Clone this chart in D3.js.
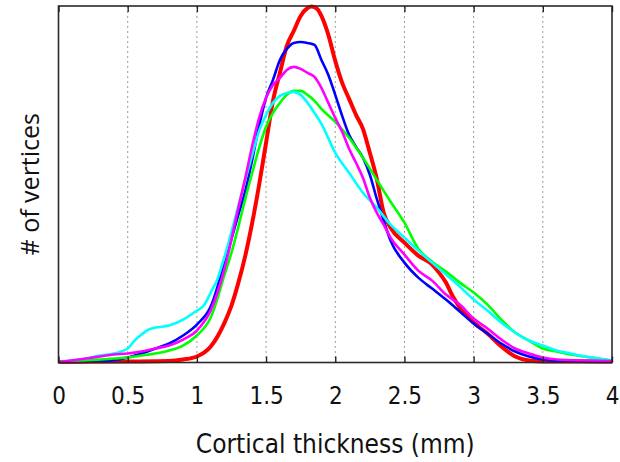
<!DOCTYPE html>
<html>
<head>
<meta charset="utf-8">
<script src="https://cdn.jsdelivr.net/npm/d3@7/dist/d3.min.js"></script>
<style>
  html, body { margin: 0; padding: 0; background: #fff; }
  svg { display: block; }
  .tick-label { font-family: 'DejaVu Sans Condensed', 'DejaVu Sans', sans-serif; font-stretch: condensed; fill: #111; }
  .axis-title { font-family: 'DejaVu Sans Condensed', 'DejaVu Sans', sans-serif; font-stretch: condensed; fill: #111; }
  .y-title { font-family: 'Open Sans', 'Noto Sans', sans-serif; fill: #111; }
</style>
</head>
<body>
<svg id="chart" width="620" height="462"></svg>
<script>
// ---- Data ----
const xTicks = [0, 0.5, 1, 1.5, 2, 2.5, 3, 3.5, 4];
const xTickLabels = ["0", "0.5", "1", "1.5", "2", "2.5", "3", "3.5", "4"];
const xTitle = "Cortical thickness (mm)";
const yTitle = "# of vertices";

const thicknessRed = [0, 0.5, 0.8, 0.9, 1.0, 1.1, 1.2, 1.25, 1.3, 1.35, 1.4, 1.45, 1.5, 1.55, 1.6, 1.65, 1.7, 1.75, 1.8, 1.83, 1.87, 1.9, 1.95, 2.0, 2.05, 2.1, 2.15, 2.2, 2.25, 2.3, 2.35, 2.4, 2.5, 2.6, 2.7, 2.75, 2.8, 2.85, 2.9, 3.0, 3.1, 3.2, 3.3, 3.4, 3.5, 4.0];
const countRed = [0.5, 1, 1.5, 3, 6, 16, 40, 57, 80, 107, 140, 178, 220, 262, 290, 317, 332, 347, 355, 356.5, 354, 347, 328, 302, 280, 264, 248, 234, 210, 184, 150, 135, 120, 107, 98, 90, 80, 66, 55, 40, 29, 16, 6, 2, 1, 1];

const thicknessBlue = [0, 0.3, 0.5, 0.6, 0.7, 0.8, 0.9, 1.0, 1.1, 1.2, 1.3, 1.35, 1.4, 1.45, 1.5, 1.55, 1.6, 1.65, 1.7, 1.75, 1.8, 1.85, 1.9, 1.95, 2.0, 2.05, 2.1, 2.15, 2.2, 2.25, 2.3, 2.35, 2.4, 2.5, 2.6, 2.7, 2.8, 2.9, 3.0, 3.1, 3.2, 3.3, 3.4, 3.5, 3.6, 3.7, 4.0];
const countBlue = [0.5, 1, 5, 9, 14, 19, 27, 38, 56, 100, 148, 172, 203, 237, 265, 283, 303, 314, 320, 321, 320, 318, 303, 288, 268, 247, 228, 216, 205, 188, 164, 142, 122, 100, 85, 74, 63, 51, 39, 29, 19, 11, 6, 3, 1.5, 1, 0.5];

const thicknessMagenta = [0, 0.2, 0.3, 0.4, 0.5, 0.6, 0.7, 0.8, 0.9, 1.0, 1.1, 1.2, 1.3, 1.35, 1.4, 1.45, 1.5, 1.55, 1.6, 1.65, 1.7, 1.75, 1.8, 1.85, 1.9, 1.95, 2.0, 2.05, 2.1, 2.15, 2.2, 2.25, 2.3, 2.35, 2.4, 2.5, 2.6, 2.7, 2.8, 2.9, 3.0, 3.1, 3.2, 3.3, 3.4, 3.5, 3.6, 3.8, 4.0];
const countMagenta = [0.5, 4, 6, 8, 9, 11, 14, 17, 23, 32, 52, 94, 155, 185, 217, 245, 265, 278, 285, 293, 296, 294, 290, 286, 275, 260, 245, 231, 214, 200, 185, 165, 150, 138, 125, 108, 92, 82, 68, 58, 44, 34, 23, 14, 9, 5, 3, 2, 1.5];

const thicknessGreen = [0, 0.2, 0.4, 0.5, 0.6, 0.7, 0.8, 0.9, 1.0, 1.1, 1.2, 1.25, 1.3, 1.35, 1.4, 1.45, 1.5, 1.55, 1.6, 1.65, 1.7, 1.75, 1.8, 1.85, 1.9, 2.0, 2.1, 2.2, 2.3, 2.4, 2.5, 2.6, 2.7, 2.8, 2.9, 3.0, 3.1, 3.2, 3.3, 3.4, 3.5, 3.6, 3.7, 3.8, 3.9, 4.0];
const countGreen = [0.5, 2, 4, 5, 7, 9, 12, 17, 27, 45, 88, 110, 136, 164, 190, 215, 236, 250, 260, 268, 272, 272, 268, 262, 254, 241, 225, 205, 183, 161, 140, 114, 101, 91, 80, 70, 58, 43, 30, 22, 14, 11, 8, 6, 4, 2];

const thicknessCyan = [0, 0.2, 0.3, 0.4, 0.5, 0.55, 0.6, 0.65, 0.7, 0.8, 0.9, 1.0, 1.05, 1.1, 1.15, 1.2, 1.3, 1.35, 1.4, 1.45, 1.5, 1.55, 1.6, 1.65, 1.7, 1.75, 1.8, 1.85, 1.9, 2.0, 2.1, 2.2, 2.3, 2.4, 2.5, 2.6, 2.7, 2.8, 2.9, 3.0, 3.1, 3.2, 3.3, 3.4, 3.5, 3.6, 3.7, 3.8, 3.9, 4.0];
const countCyan = [0.5, 4, 7, 9, 14, 22, 28, 33, 35, 37, 43, 52, 57, 70, 84, 106, 157, 183, 208, 232, 248, 260, 267, 270, 271, 268, 260, 250, 239, 210, 190, 170, 155, 138, 125, 112, 100, 88, 76, 63, 52, 40, 30, 22, 17, 12, 9, 6, 4, 2];

const seriesNames = ["red", "blue", "green", "cyan", "magenta"];
const seriesColors = ["#ff0000", "#0000ff", "#00ff00", "#00ffff", "#ff00ff"];
const seriesWidths = [4, 2.6, 2.6, 2.6, 2.6];

// ---- Layout ----
const svg = d3.select("#chart");
const plot = { left: 58.5, right: 612, top: 6, bottom: 362.5 };

const x = d3.scaleLinear().domain([0, 4]).range([plot.left, plot.right]);
const y = d3.scaleLinear().domain([0, 357]).range([plot.bottom, plot.top]);

// Grid lines (dotted)
svg.append("g")
  .selectAll("line")
  .data(xTicks.slice(1, -1))
  .join("line")
  .attr("x1", d => x(d)).attr("x2", d => x(d))
  .attr("y1", plot.top).attr("y2", plot.bottom)
  .attr("stroke", "#9a9a9a")
  .attr("stroke-width", 1)
  .attr("stroke-dasharray", "2,3");

// Series
const seriesX = [thicknessRed, thicknessBlue, thicknessGreen, thicknessCyan, thicknessMagenta];
const seriesY = [countRed, countBlue, countGreen, countCyan, countMagenta];

const line = d3.line()
  .x(d => x(d[0]))
  .y(d => y(d[1]))
  .curve(d3.curveMonotoneX);

seriesNames.forEach((name, i) => {
  const pts = seriesX[i].map((t, j) => [t, seriesY[i][j]]);
  svg.append("path")
    .datum(pts)
    .attr("fill", "none")
    .attr("stroke", seriesColors[i])
    .attr("stroke-width", seriesWidths[i])
    .attr("stroke-linejoin", "round")
    .attr("d", line);
});

// Frame
svg.append("rect")
  .attr("x", plot.left).attr("y", plot.top)
  .attr("width", plot.right - plot.left)
  .attr("height", plot.bottom - plot.top)
  .attr("fill", "none")
  .attr("stroke", "#2a2a2a")
  .attr("stroke-width", 1.6);

// Bottom axis: inward ticks
const xAxisBottom = d3.axisBottom(x)
  .tickValues(xTicks)
  .tickFormat((d, i) => xTickLabels[i])
  .tickSizeInner(-6)
  .tickSizeOuter(0)
  .tickPadding(22);
const gb = svg.append("g")
  .attr("transform", `translate(0,${plot.bottom})`)
  .call(xAxisBottom);
gb.select(".domain").remove();
gb.selectAll(".tick line").attr("stroke", "#222").attr("stroke-width", 1.4);
gb.selectAll(".tick text")
  .attr("class", "tick-label")
  .attr("font-size", 24)
  .attr("fill", "#111")
  .attr("dy", null)
  .attr("y", 41.5);

// Top axis: inward ticks, no labels
const xAxisTop = d3.axisTop(x)
  .tickValues(xTicks)
  .tickFormat("")
  .tickSizeInner(-6)
  .tickSizeOuter(0);
const gt = svg.append("g")
  .attr("transform", `translate(0,${plot.top})`)
  .call(xAxisTop);
gt.select(".domain").remove();
gt.selectAll(".tick line").attr("stroke", "#222").attr("stroke-width", 1.4);

// Titles
svg.append("text")
  .attr("class", "axis-title")
  .attr("x", (plot.left + plot.right) / 2)
  .attr("y", 453)
  .attr("text-anchor", "middle")
  .attr("font-size", 26)
  .text(xTitle);

svg.append("text")
  .attr("class", "y-title")
  .attr("transform", `translate(39,${(plot.top + plot.bottom) / 2}) rotate(-90)`)
  .attr("text-anchor", "middle")
  .attr("font-size", 25)
  .text(yTitle);
</script>
</body>
</html>
